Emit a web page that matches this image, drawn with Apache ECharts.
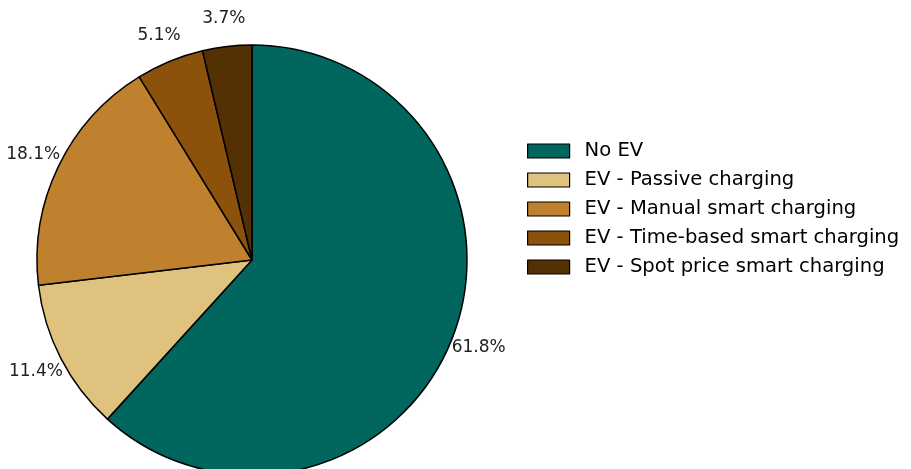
<!DOCTYPE html>
<html>
<head>
<meta charset="utf-8">
<script src="https://cdn.jsdelivr.net/npm/echarts@6/dist/echarts.min.js"></script>
<style>
  html, body { margin: 0; padding: 0; background: #fff; }
  #chart { width: 911px; height: 469px; }
</style>
</head>
<body>
<div id="chart"></div>
<script>
// shares of households, in percent
var categories = ['No EV', 'EV - Passive charging', 'EV - Manual smart charging',
  'EV - Time-based smart charging', 'EV - Spot price smart charging'];
var shares = [61.8, 11.4, 18.1, 5.1, 3.7];
var colors = ['#01665e', '#dfc27d', '#bf812d', '#8c510a', '#543005'];

var pieData = categories.map(function (name, i) {
  return { name: name, value: shares[i], itemStyle: { color: colors[i] } };
});

var chart = echarts.init(document.getElementById('chart'));
chart.setOption({
  animation: false,
  legend: {
    orient: 'vertical',
    left: 527,
    top: 141,
    padding: 0,
    itemWidth: 42,
    itemHeight: 14,
    itemGap: 9,
    icon: 'rect',
    itemStyle: { borderColor: '#000', borderWidth: 1.2 },
    textStyle: {
      fontFamily: 'DejaVu Sans',
      fontSize: 19.6,
      lineHeight: 20,
      color: '#000',
      padding: [0, 0, 0, 10]
    },
    data: categories
  },
  series: [
    {
      type: 'pie',
      center: [252, 260],
      radius: 215,
      startAngle: 90,
      clockwise: true,
      label: { show: false },
      labelLine: { show: false },
      itemStyle: { borderColor: '#000', borderWidth: 1.5 },
      emphasis: { disabled: true },
      data: pieData
    },
    {
      // transparent ring that only carries the percentage labels
      type: 'pie',
      center: [252, 260],
      radius: [215, 265],
      startAngle: 90,
      clockwise: true,
      silent: true,
      itemStyle: { color: 'rgba(0,0,0,0)' },
      label: {
        show: true,
        position: 'inside',
        formatter: function (p) { return p.value.toFixed(1) + '%'; },
        fontFamily: 'DejaVu Sans',
        fontSize: 17,
        color: '#222'
      },
      labelLine: { show: false },
      emphasis: { disabled: true },
      data: pieData.map(function (d) { return { name: d.name, value: d.value }; })
    }
  ]
});
</script>
</body>
</html>
